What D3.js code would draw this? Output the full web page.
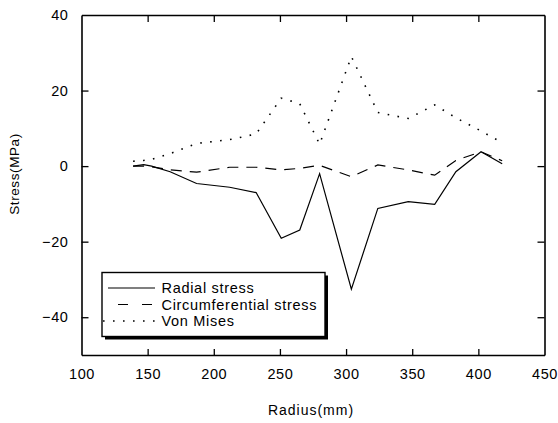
<!DOCTYPE html>
<html>
<head>
<meta charset="utf-8">
<script src="https://cdn.jsdelivr.net/npm/d3@7"></script>
<style>
  body { margin: 0; background: #fff; }
  svg { display: block; }
  text { font-family: "Liberation Sans", Arial, sans-serif; fill: #000; }
</style>
</head>
<body>
<div id="vis"></div>
<script>
const RADIUS = [139, 147, 153, 167, 187, 212, 232, 251, 265, 280, 304, 324, 347, 367, 383, 402, 418]
const RADIAL = [0, 0.4, 0, -1.5, -4.6, -5.6, -7.0, -19.1, -16.9, -2.0, -32.6, -11.2, -9.4, -10.1, -1.5, 3.8, 0.6]
const CIRCUM = [0, 0, -0.2, -1.0, -1.6, -0.3, -0.3, -1.0, -0.6, 0.2, -2.8, 0.3, -1.0, -2.4, 1.5, 3.8, 1.4]
const VON_MISES = [1.3, 1.5, 1.8, 3.3, 6.0, 7.0, 8.5, 18.0, 16.5, 5.8, 29.0, 14.2, 12.6, 16.2, 12.8, 9.3, 6.2]

const X_TICKS = [100, 150, 200, 250, 300, 350, 400, 450]
const Y_TICKS = [40, 20, 0, -20, -40]
const SERIES_NAMES = ['Radial stress', 'Circumferential stress', 'Von Mises']

let width = 558, height = 423
let margin = {top: 15, right: 13.5, bottom: 68, left: 81.5}

let svg = d3.select('#vis')
    .append('svg')
    .attr('width', width)
    .attr('height', height)

let x = d3.scaleLinear()
    .domain([100, 450])
    .range([margin.left, width - margin.right])

let y = d3.scaleLinear()
    .domain([-50, 40])
    .range([height - margin.bottom, margin.top])

function styleAxis(g) {
    g.select('.domain').attr('stroke', '#000').attr('stroke-width', 1.6)
    g.selectAll('.tick line').attr('stroke', '#000').attr('stroke-width', 1.3)
    g.selectAll('.tick text')
        .style('font-size', '14.5px')
        .style('letter-spacing', '0.6px')
        .style('font-family', '"Liberation Sans", Arial, sans-serif')
}

// bottom axis with labels
svg.append('g')
    .attr('transform', `translate(0, ${y(-50)})`)
    .call(d3.axisBottom(x).tickValues(X_TICKS).tickSizeInner(-6).tickSizeOuter(0).tickPadding(14))
    .call(styleAxis)
    .call(g => g.selectAll('.tick line').filter(d => d === 100 || d === 450).remove())

// top axis
svg.append('g')
    .attr('transform', `translate(0, ${y(40)})`)
    .call(d3.axisTop(x).tickValues(X_TICKS).tickSizeInner(-7).tickSizeOuter(0).tickFormat(''))
    .call(styleAxis)
    .call(g => g.selectAll('.tick line').filter(d => d === 100 || d === 450).remove())

// left axis with labels
svg.append('g')
    .attr('transform', `translate(${x(100)}, 0)`)
    .call(d3.axisLeft(y).tickValues(Y_TICKS).tickSizeInner(-7).tickSizeOuter(0).tickPadding(13))
    .call(styleAxis)
    .call(g => g.selectAll('.tick line').filter(d => d === 40).remove())

// right axis
svg.append('g')
    .attr('transform', `translate(${x(450)}, 0)`)
    .call(d3.axisRight(y).tickValues(Y_TICKS).tickSizeInner(-7).tickSizeOuter(0).tickFormat(''))
    .call(styleAxis)
    .call(g => g.selectAll('.tick line').filter(d => d === 40).remove())

// axis titles
svg.append('text')
    .attr('x', 311)
    .attr('y', 415)
    .attr('text-anchor', 'middle')
    .style('font-size', '14px')
    .style('letter-spacing', '1px')
    .text('Radius(mm)')

svg.append('text')
    .attr('transform', 'translate(19, 174) rotate(-90)')
    .attr('text-anchor', 'middle')
    .style('font-size', '13.5px')
    .style('letter-spacing', '0.6px')
    .text('Stress(MPa)')

// series
let seriesData = [RADIAL, CIRCUM, VON_MISES]
let dashes = [null, '11,8', '1.6,8.4']
let line = d3.line()
    .x((d, i) => x(RADIUS[i]))
    .y(d => y(d))

svg.append('g')
    .selectAll('path')
    .data(seriesData)
    .enter().append('path')
    .attr('d', line)
    .attr('fill', 'none')
    .attr('stroke', '#000')
    .attr('stroke-width', (d, i) => i === 2 ? 1.6 : 1.2)
    .attr('stroke-dasharray', (d, i) => dashes[i])

// legend
let legend = svg.append('g')
    .attr('transform', 'translate(102, 272.5)')

let legW = 223, legH = 64

legend.append('rect')
    .attr('x', 3)
    .attr('y', 3)
    .attr('width', legW)
    .attr('height', legH)
    .attr('fill', '#000')

legend.append('rect')
    .attr('width', legW)
    .attr('height', legH)
    .attr('fill', '#fff')
    .attr('stroke', '#000')
    .attr('stroke-width', 1.4)

let rows = legend.selectAll('g.row')
    .data(SERIES_NAMES)
    .enter().append('g')
    .attr('class', 'row')
    .attr('transform', (d, i) => `translate(0, ${15.5 + i * 16.5})`)

rows.append('line')
    .attr('x1', (d, i) => i === 2 ? 1 : 6)
    .attr('x2', 53)
    .attr('stroke', '#000')
    .attr('stroke-width', (d, i) => i === 2 ? 1.6 : 1.2)
    .attr('stroke-dasharray', (d, i) => i === 1 ? '10,14' : dashes[i])
    .attr('transform', (d, i) => i === 1 ? 'translate(10,0)' : null)

rows.append('text')
    .attr('x', 59.5)
    .attr('y', 5)
    .style('font-size', '14.5px')
    .style('letter-spacing', '0.7px')
    .text(d => d)
</script>
</body>
</html>
